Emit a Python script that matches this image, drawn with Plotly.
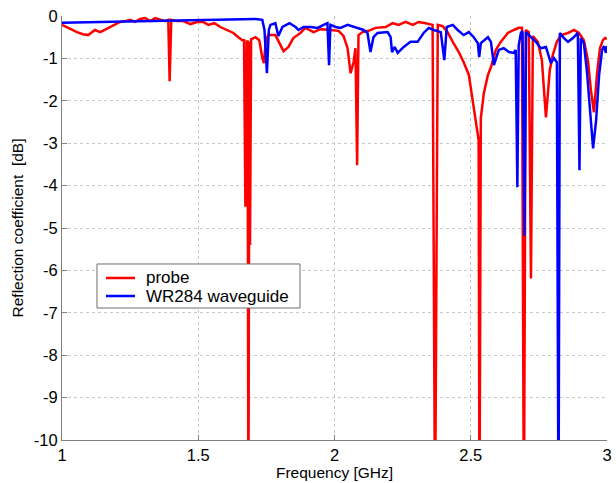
import plotly.graph_objects as go

# ---- data ----
probe_freq = [1.000, 1.029, 1.055, 1.077, 1.096, 1.121, 1.140, 1.162, 1.176, 1.195,
              1.213, 1.232, 1.250, 1.268, 1.287, 1.305, 1.324, 1.342, 1.360, 1.379,
              1.390, 1.395, 1.401, 1.419, 1.445, 1.471, 1.496, 1.518, 1.537, 1.559,
              1.581, 1.607, 1.629, 1.647, 1.662, 1.668, 1.673, 1.678, 1.681, 1.684,
              1.688, 1.690, 1.694, 1.710, 1.724, 1.735, 1.741, 1.748, 1.757, 1.783,
              1.801, 1.813, 1.831, 1.849, 1.875, 1.893, 1.923, 1.949, 1.985, 2.015,
              2.033, 2.048, 2.059, 2.070, 2.077, 2.083, 2.088, 2.103, 2.125, 2.151,
              2.188, 2.213, 2.235, 2.261, 2.287, 2.309, 2.335, 2.360, 2.369, 2.379,
              2.397, 2.415, 2.434, 2.456, 2.474, 2.493, 2.507, 2.522, 2.529, 2.532,
              2.537, 2.548, 2.563, 2.574, 2.592, 2.610, 2.636, 2.658, 2.676, 2.688,
              2.695, 2.702, 2.713, 2.721, 2.728, 2.746, 2.761, 2.776, 2.790, 2.801,
              2.816, 2.831, 2.857, 2.879, 2.897, 2.915, 2.930, 2.941, 2.952, 2.963,
              2.974, 2.985, 2.993, 3.000]
probe_db = [-0.21, -0.31, -0.38, -0.43, -0.45, -0.33, -0.38, -0.31, -0.26, -0.21,
            -0.14, -0.12, -0.09, -0.14, -0.07, -0.05, -0.12, -0.05, -0.09, -0.12,
            -0.09, -1.54, -0.09, -0.12, -0.12, -0.19, -0.14, -0.14, -0.21, -0.17,
            -0.26, -0.33, -0.40, -0.50, -0.57, -0.57, -4.50, -0.60, -0.60, -12.0,
            -0.60, -5.40, -0.55, -0.50, -0.57, -0.99, -1.11, -0.57, -0.45, -0.45,
            -0.69, -0.83, -0.73, -0.52, -0.40, -0.28, -0.38, -0.31, -0.33, -0.35,
            -0.47, -0.76, -1.35, -1.09, -0.76, -3.52, -0.45, -0.38, -0.35, -0.28,
            -0.26, -0.17, -0.21, -0.14, -0.21, -0.14, -0.17, -0.21, -12.0, -0.21,
            -0.24, -0.38, -0.61, -0.85, -1.09, -1.39, -1.99, -2.70, -2.93, -12.0,
            -2.41, -1.82, -1.39, -1.21, -0.80, -0.61, -0.40, -0.33, -0.28, -0.28,
            -12.0, -0.33, -0.38, -6.19, -0.47, -0.61, -1.04, -2.39, -1.28, -0.92,
            -0.61, -0.45, -0.40, -0.33, -0.40, -0.57, -1.04, -1.75, -2.27, -1.39,
            -0.76, -0.57, -0.52, -0.54]

wg_freq = [1.000, 1.140, 1.324, 1.507, 1.654, 1.710, 1.735, 1.743, 1.752, 1.759,
           1.765, 1.783, 1.794, 1.809, 1.835, 1.857, 1.868, 1.886, 1.912, 1.938,
           1.960, 1.974, 1.980, 1.985, 2.004, 2.022, 2.048, 2.085, 2.107, 2.121,
           2.132, 2.143, 2.158, 2.195, 2.206, 2.211, 2.221, 2.232, 2.254, 2.279,
           2.305, 2.327, 2.346, 2.364, 2.390, 2.403, 2.412, 2.434, 2.452, 2.474,
           2.493, 2.511, 2.526, 2.531, 2.537, 2.563, 2.574, 2.585, 2.603, 2.621,
           2.640, 2.658, 2.665, 2.671, 2.676, 2.684, 2.690, 2.697, 2.703,
           2.721, 2.739, 2.757, 2.776, 2.794, 2.805, 2.816, 2.822, 2.827, 2.842,
           2.857, 2.875, 2.893, 2.899, 2.904, 2.915, 2.926, 2.937, 2.949, 2.960,
           2.971, 2.982, 2.989, 2.996, 3.000]
wg_db = [-0.16, -0.14, -0.12, -0.10, -0.07, -0.07, -0.09, -0.33, -1.35, -0.33,
         -0.21, -0.17, -0.47, -0.26, -0.17, -0.26, -0.33, -0.26, -0.26, -0.28,
         -0.21, -0.17, -1.16, -0.21, -0.26, -0.28, -0.21, -0.28, -0.33, -0.40,
         -0.85, -0.50, -0.40, -0.38, -0.50, -0.85, -0.73, -0.87, -0.73, -0.61,
         -0.61, -0.40, -0.28, -0.33, -0.38, -1.04, -0.26, -0.21, -0.33, -0.45,
         -0.38, -0.50, -0.64, -0.97, -0.64, -0.50, -0.61, -1.16, -0.80, -0.76,
         -0.85, -0.87, -0.80, -4.04, -0.69, -0.40, -0.36, -5.18, -0.38,
         -0.50, -0.61, -0.76, -0.73, -1.11, -0.99, -1.09, -12.0, -0.40, -0.52,
         -0.61, -0.52, -0.40, -3.64, -0.52, -0.64, -1.28, -2.22, -3.12, -2.46,
         -1.39, -0.80, -0.71, -0.87, -0.71]

series_names = ["probe", "WR284 waveguide"]
series_colors = ["#ff0000", "#0000ff"]

x_ticks = [1, 1.5, 2, 2.5, 3]
x_tick_labels = ["1", "1.5", "2", "2.5", "3"]
y_ticks = [0, -1, -2, -3, -4, -5, -6, -7, -8, -9, -10]
y_tick_labels = ["0", "-1", "-2", "-3", "-4", "-5", "-6", "-7", "-8", "-9", "-10"]

FONT = "Liberation Sans, Arial, sans-serif"

fig = go.Figure()
for xs, ys, name, color in zip([probe_freq, wg_freq], [probe_db, wg_db],
                               series_names, series_colors):
    fig.add_trace(go.Scatter(x=xs, y=ys, mode="lines", name=name, showlegend=False,
                             line=dict(color=color, width=2.5)))

axis_common = dict(
    showgrid=True, gridcolor="#c8c8c8", griddash="dot", gridwidth=1,
    showline=True, linecolor="#808080", linewidth=1,
    ticks="inside", ticklen=5, tickcolor="#808080",
    tickfont=dict(family=FONT, size=16.5, color="black"),
    zeroline=False, mirror=False, automargin=False,
)

# MATLAB-style legend box (paper coordinates)
leg_x0, leg_x1, leg_y0, leg_y1 = 0.0642, 0.4367, 0.3113, 0.4151
item_y = [0.3821, 0.3396]
shapes = [dict(type="rect", xref="paper", yref="paper",
               x0=leg_x0, x1=leg_x1, y0=leg_y0, y1=leg_y1,
               fillcolor="white", line=dict(color="#6e6e6e", width=1), layer="above")]
annotations = []
for name, color, yy in zip(series_names, series_colors, item_y):
    shapes.append(dict(type="line", xref="paper", yref="paper",
                       x0=0.0807, x1=0.1339, y0=yy, y1=yy,
                       line=dict(color=color, width=2.5), layer="above"))
    annotations.append(dict(xref="paper", yref="paper", x=0.1505, y=yy,
                            xanchor="left", yanchor="middle", showarrow=False,
                            text=name, font=dict(family=FONT, size=17, color="black")))

fig.update_layout(
    width=616, height=483,
    paper_bgcolor="white", plot_bgcolor="white",
    margin=dict(l=62, r=9, t=16, b=43, autoexpand=False),
    font=dict(family=FONT, size=16, color="black"),
    xaxis=dict(range=[1, 3], tickvals=x_ticks, ticktext=x_tick_labels,
               title=dict(text="Frequency [GHz]", font=dict(family=FONT, size=15.5), standoff=2),
               **axis_common),
    yaxis=dict(range=[-10, 0], tickvals=y_ticks, ticktext=y_tick_labels,
               title=dict(text="Reflection coefficient  [dB]", font=dict(family=FONT, size=15.5), standoff=6),
               **axis_common),
    shapes=shapes,
    annotations=annotations,
    showlegend=False,
)

fig.write_html("out.html", config={"displayModeBar": False},
               post_script="document.body.style.margin='0';")
